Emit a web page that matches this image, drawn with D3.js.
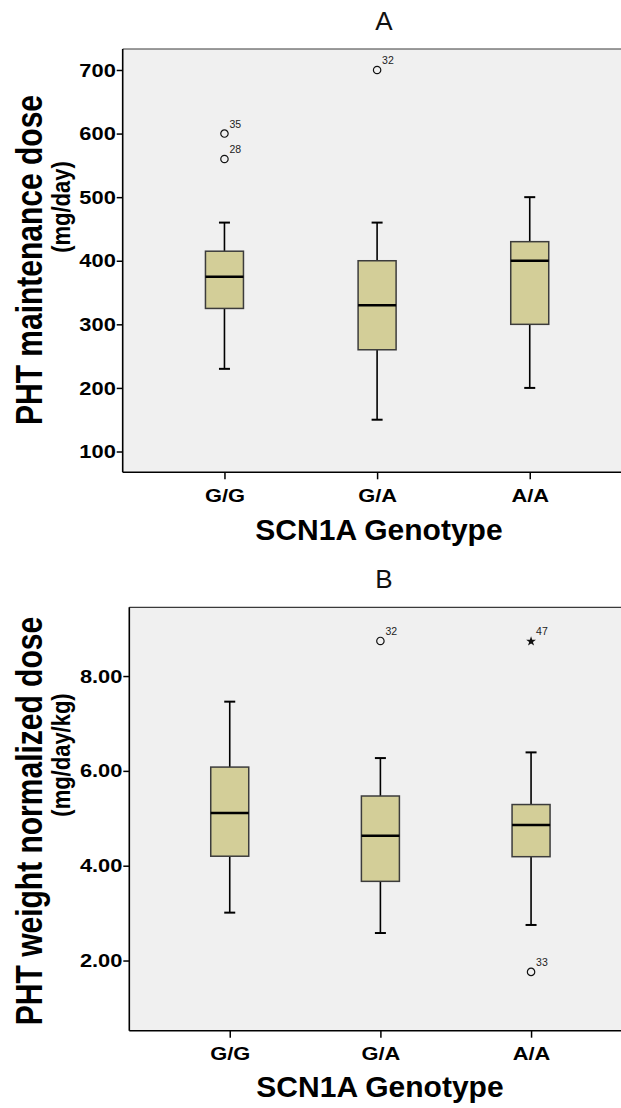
<!DOCTYPE html>
<html>
<head>
<meta charset="utf-8">
<script src="https://cdn.jsdelivr.net/npm/d3@7/dist/d3.min.js"></script>
<style>
  html, body { margin: 0; padding: 0; background: #ffffff; }
  svg { display: block; }
  text { font-family: "Liberation Sans", Arial, Helvetica, sans-serif; }
</style>
</head>
<body>
<svg id="chart" width="621" height="1108"></svg>
<script>
// Genotype groups on the x axis
const categories = ["G/G", "G/A", "A/A"];

// Panel A: PHT maintenance dose (mg/day), box-plot summary per genotype
const doseLowerWhisker = [230, 150, 200];
const doseQ1           = [325, 260, 300];
const doseMedian       = [375, 330, 400];
const doseQ3           = [415, 400, 430];
const doseUpperWhisker = [460, 460, 500];
const doseOutlierGroup = ["G/G", "G/G", "G/A"];
const doseOutlierValue = [600, 560, 700];
const doseOutlierCase  = ["35", "28", "32"];
const doseOutlierKind  = ["outlier", "outlier", "outlier"];
const doseTicks = [100, 200, 300, 400, 500, 600, 700];

// Panel B: PHT weight-normalized dose (mg/day/kg)
const normLowerWhisker = [3.01, 2.58, 2.75];
const normQ1           = [4.20, 3.67, 4.19];
const normMedian       = [5.11, 4.63, 4.86];
const normQ3           = [6.08, 5.47, 5.29];
const normUpperWhisker = [7.46, 6.27, 6.39];
const normOutlierGroup = ["G/A", "A/A", "A/A"];
const normOutlierValue = [8.74, 8.73, 1.76];
const normOutlierCase  = ["32", "47", "33"];
const normOutlierKind  = ["outlier", "extreme", "outlier"];
const normTicks = [2, 4, 6, 8];

// horizontal stretch applied to the axis lettering
const SX = 1.15;

const svg = d3.select("#chart");

function boxRows(lo, q1, med, q3, hi) {
  return categories.map((c, i) => ({ cat: c, lo: lo[i], q1: q1[i], med: med[i], q3: q3[i], hi: hi[i] }));
}
function outlierRows(groups, values, cases, kinds) {
  return groups.map((g, i) => ({ cat: g, value: values[i], id: cases[i], kind: kinds[i] }));
}

function drawPanel(cfg) {
  const g = svg.append("g");
  const x = d3.scalePoint().domain(categories).range([cfg.left, cfg.right]).padding(2 / 3);
  const y = d3.scaleLinear().domain(cfg.domain).range([cfg.bottom, cfg.top]);

  // panel letter
  g.append("text")
    .attr("x", cfg.titleX).attr("y", cfg.titleY)
    .attr("text-anchor", "middle")
    .attr("font-size", 26)
    .attr("fill", "#111")
    .text(cfg.title);

  // plot background
  g.append("rect")
    .attr("x", cfg.left).attr("y", cfg.top)
    .attr("width", cfg.right - cfg.left).attr("height", cfg.bottom - cfg.top)
    .attr("fill", "#f0f0f0");
  g.append("line")
    .attr("x1", cfg.left).attr("x2", cfg.right)
    .attr("y1", cfg.top).attr("y2", cfg.top)
    .attr("stroke", "#3a3a3a").attr("stroke-width", 1.2);

  // y axis
  const yAxis = d3.axisLeft(y)
    .tickValues(cfg.ticks)
    .tickSize(6)
    .tickPadding(0)
    .tickFormat(cfg.format);
  const ya = g.append("g").attr("transform", `translate(${cfg.left},0)`).call(yAxis);
  ya.select(".domain").remove();
  ya.selectAll(".tick line").attr("stroke", "#000").attr("stroke-width", 1.5);
  ya.selectAll(".tick text")
    .attr("font-size", 19).attr("font-weight", "bold").attr("fill", "#000")
    .attr("font-family", "'Liberation Sans', Arial, sans-serif")
    .attr("transform", `scale(${SX},1)`);

  // x axis
  const xAxis = d3.axisBottom(x).tickSize(7).tickPadding(9);
  const xa = g.append("g").attr("transform", `translate(0,${cfg.bottom})`).call(xAxis);
  xa.select(".domain").remove();
  xa.selectAll(".tick line").attr("stroke", "#000").attr("stroke-width", 1.5);
  xa.selectAll(".tick text")
    .attr("font-size", 19).attr("font-weight", "bold").attr("fill", "#000")
    .attr("font-family", "'Liberation Sans', Arial, sans-serif")
    .attr("transform", `scale(${SX},1)`);

  // frame: left and bottom borders
  g.append("line")
    .attr("x1", cfg.left).attr("x2", cfg.left)
    .attr("y1", cfg.top).attr("y2", cfg.bottom)
    .attr("stroke", "#000").attr("stroke-width", 1.6);
  g.append("line")
    .attr("x1", cfg.left).attr("x2", cfg.right)
    .attr("y1", cfg.bottom).attr("y2", cfg.bottom)
    .attr("stroke", "#000").attr("stroke-width", 1.6);

  // axis titles
  g.append("text")
    .attr("x", cfg.xTitleX).attr("y", cfg.xTitleY)
    .attr("text-anchor", "middle")
    .attr("font-size", 30).attr("font-weight", "bold").attr("fill", "#000")
    .text("SCN1A Genotype");
  g.append("text")
    .attr("transform", `translate(${cfg.yTitle1X},${cfg.yTitle1Y}) scale(1.2,1) rotate(-90)`)
    .attr("text-anchor", "middle")
    .attr("font-size", 30).attr("font-weight", "bold").attr("fill", "#000")
    .text(cfg.yTitle1);
  g.append("text")
    .attr("transform", `translate(${cfg.yTitle2X},${cfg.yTitle2Y}) scale(1.2,1) rotate(-90)`)
    .attr("text-anchor", "middle")
    .attr("font-size", cfg.yTitle2Size).attr("font-weight", "bold").attr("fill", "#000")
    .text(cfg.yTitle2);

  // boxes
  const boxW = 38, capW = 11;
  const bx = g.selectAll("g.box").data(cfg.boxes).join("g").attr("class", "box");
  bx.append("line")
    .attr("x1", d => x(d.cat)).attr("x2", d => x(d.cat))
    .attr("y1", d => y(d.hi)).attr("y2", d => y(d.q3))
    .attr("stroke", "#000").attr("stroke-width", 1.6);
  bx.append("line")
    .attr("x1", d => x(d.cat)).attr("x2", d => x(d.cat))
    .attr("y1", d => y(d.q1)).attr("y2", d => y(d.lo))
    .attr("stroke", "#000").attr("stroke-width", 1.6);
  bx.append("line")
    .attr("x1", d => x(d.cat) - capW / 2).attr("x2", d => x(d.cat) + capW / 2)
    .attr("y1", d => y(d.hi)).attr("y2", d => y(d.hi))
    .attr("stroke", "#000").attr("stroke-width", 2);
  bx.append("line")
    .attr("x1", d => x(d.cat) - capW / 2).attr("x2", d => x(d.cat) + capW / 2)
    .attr("y1", d => y(d.lo)).attr("y2", d => y(d.lo))
    .attr("stroke", "#000").attr("stroke-width", 2);
  bx.append("rect")
    .attr("x", d => x(d.cat) - boxW / 2).attr("width", boxW)
    .attr("y", d => y(d.q3)).attr("height", d => y(d.q1) - y(d.q3))
    .attr("fill", "#d3ce98").attr("stroke", "#3c3c3c").attr("stroke-width", 1.5);
  bx.append("line")
    .attr("x1", d => x(d.cat) - boxW / 2).attr("x2", d => x(d.cat) + boxW / 2)
    .attr("y1", d => y(d.med)).attr("y2", d => y(d.med))
    .attr("stroke", "#000").attr("stroke-width", 2.5);

  // outliers and extremes with case labels
  const ol = g.selectAll("g.out").data(cfg.outliers).join("g").attr("class", "out")
    .attr("transform", d => `translate(${x(d.cat)},${y(d.value)})`);
  ol.filter(d => d.kind === "outlier").append("circle")
    .attr("r", 3.7).attr("fill", "none").attr("stroke", "#111").attr("stroke-width", 1.2);
  ol.filter(d => d.kind === "extreme").append("path")
    .attr("d", d3.symbol(d3.symbolStar, 30))
    .attr("fill", "#111");
  ol.append("text")
    .attr("x", 5).attr("y", -6)
    .attr("font-size", 10.5).attr("fill", "#222")
    .text(d => d.id);
}

drawPanel({
  title: "A", titleX: 384, titleY: 30,
  left: 122.7, right: 631.5, top: 49, bottom: 472.3,
  domain: [67.3, 733],
  ticks: doseTicks, format: d3.format("d"),
  boxes: boxRows(doseLowerWhisker, doseQ1, doseMedian, doseQ3, doseUpperWhisker),
  outliers: outlierRows(doseOutlierGroup, doseOutlierValue, doseOutlierCase, doseOutlierKind),
  xTitleX: 379, xTitleY: 540,
  yTitle1: "PHT maintenance dose", yTitle1X: 42, yTitle1Y: 260,
  yTitle2: "(mg/day)", yTitle2X: 69.5, yTitle2Y: 207, yTitle2Size: 22
});

drawPanel({
  title: "B", titleX: 384, titleY: 588,
  left: 129.3, right: 631.5, top: 607.3, bottom: 1030.7,
  domain: [0.52, 9.45],
  ticks: normTicks, format: d3.format(".2f"),
  boxes: boxRows(normLowerWhisker, normQ1, normMedian, normQ3, normUpperWhisker),
  outliers: outlierRows(normOutlierGroup, normOutlierValue, normOutlierCase, normOutlierKind),
  xTitleX: 380, xTitleY: 1097,
  yTitle1: "PHT weight normalized dose", yTitle1X: 42, yTitle1Y: 821,
  yTitle2: "(mg/day/kg)", yTitle2X: 69.5, yTitle2Y: 755, yTitle2Size: 22
});
</script>
</body>
</html>
